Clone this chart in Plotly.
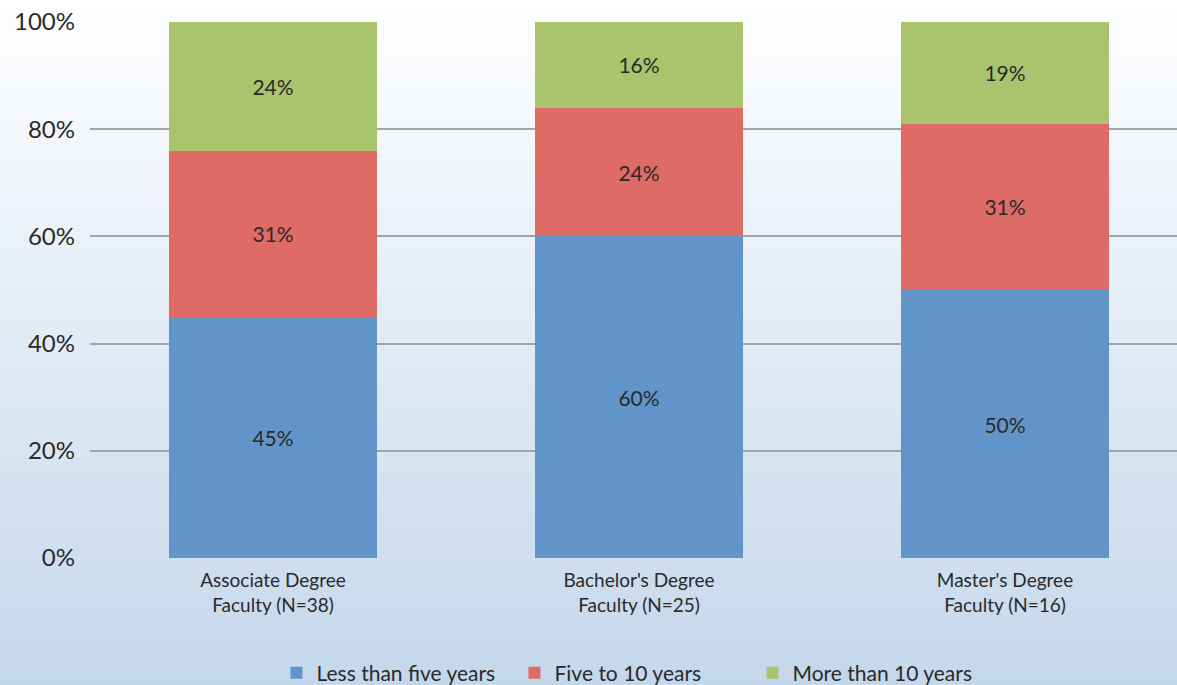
import plotly.graph_objects as go

categories = ["Associate Degree<br>Faculty (N=38)", "Bachelor's Degree<br>Faculty (N=25)", "Master's Degree<br>Faculty (N=16)"]
less_than_five = [45, 60, 50]
five_to_ten = [31, 24, 31]
more_than_ten = [24, 16, 19]
series_names = ["Less than five years", "Five to 10 years", "More than 10 years"]
colors = ["#6195c9", "#df6b66", "#a9c46c"]
y_ticks = [0, 20, 40, 60, 80, 100]
y_tick_labels = ["0%", "20%", "40%", "60%", "80%", "100%"]

W, H = 1177, 685
ml, mr, mt, mb = 90, 0, 22, 127
pw, ph = W - ml - mr, H - mt - mb

FONT = "Lato, 'Open Sans', sans-serif"
TXT = "#2a2a2a"

fig = go.Figure()
for name, vals, col in zip(series_names, [less_than_five, five_to_ten, more_than_ten], colors):
    fig.add_trace(go.Bar(
        x=[0, 1, 2], y=vals, name=name, marker=dict(color=col, line=dict(width=0)),
        text=[f"{v}%" for v in vals], textposition="inside", insidetextanchor="middle",
        textfont=dict(family=FONT, size=21, color=TXT), width=0.568,
        hoverinfo="skip",
    ))

# gradient background via bands
shapes = []
n = 80
x0 = -ml / pw - 0.01
y_bot = -mb / ph - 0.01
y_top = 1 + mt / ph + 0.01
top_c = (255, 255, 255)
bot_c = (195, 215, 235)
for i in range(n):
    t0 = i / n
    t1 = (i + 1) / n
    tm = (t0 + t1) / 2
    c = tuple(round(top_c[k] + (bot_c[k] - top_c[k]) * tm) for k in range(3))
    ya = y_top - (y_top - y_bot) * t0
    yb = y_top - (y_top - y_bot) * t1
    shapes.append(dict(type="rect", xref="paper", yref="paper", x0=x0, x1=1.05,
                       y0=yb - 0.002, y1=ya, fillcolor=f"rgb{c}", line=dict(width=0), layer="below"))

units = pw / 366.0
fig.update_layout(
    width=W, height=H,
    margin=dict(l=ml, r=mr, t=mt, b=mb, autoexpand=False),
    barmode="stack",
    paper_bgcolor="rgba(0,0,0,0)", plot_bgcolor="rgba(0,0,0,0)",
    shapes=shapes,
    font=dict(family=FONT, color=TXT),
    showlegend=True,
    legend=dict(orientation="h", x=0.5, xanchor="center",
                yref="container", y=(H - 673) / H, yanchor="middle",
                traceorder="normal", font=dict(family=FONT, size=21, color=TXT),
                bgcolor="rgba(0,0,0,0)", itemwidth=30,
                entrywidth=193, entrywidthmode="pixels"),
    xaxis=dict(range=[-0.5, -0.5 + units], tickvals=[0, 1, 2], ticktext=categories,
               showgrid=False, zeroline=False, showline=False, ticks="",
               ticklabelstandoff=9, automargin=False,
               tickfont=dict(family=FONT, size=19, color=TXT)),
    yaxis=dict(range=[0, 100], tickvals=y_ticks, ticktext=y_tick_labels,
               showgrid=True, gridcolor="#a3a3a8", gridwidth=2, zeroline=False,
               showline=False, ticks="", ticklabelstandoff=14, automargin=False,
               tickfont=dict(family=FONT, size=24, color=TXT)),
)
fig.write_html("out.html", config={"displayModeBar": False},
               post_script="document.body.style.margin='0';document.body.style.overflow='hidden';")
